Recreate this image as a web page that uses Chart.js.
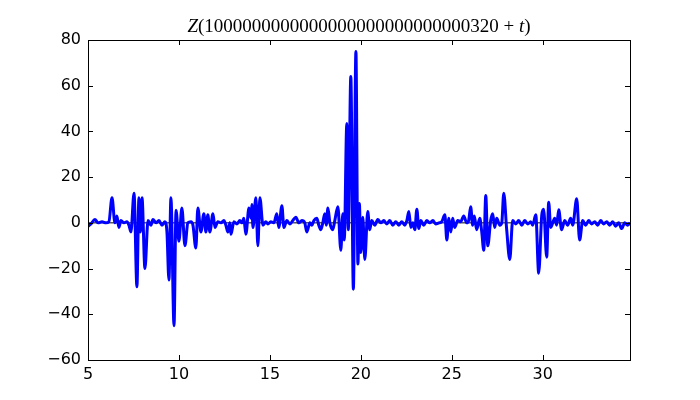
<!DOCTYPE html>
<html>
<head>
<meta charset="utf-8">
<script src="https://cdn.jsdelivr.net/npm/chart.js@4"></script>
<style>
  body { margin: 0; background: #fff; }
</style>
</head>
<body>
<canvas id="zplot" width="700" height="400"></canvas>
<script>
// values (t, Z(t))
const tValues = [
  5.00, 5.16, 5.38, 5.55, 5.77, 5.99, 6.15, 6.32, 6.48, 6.59, 6.70, 6.81, 6.98, 7.14, 7.25,
  7.36, 7.53, 7.69, 7.80, 7.88, 7.97, 8.13, 8.30, 8.46, 8.57, 8.74, 8.90, 9.07, 9.23, 9.34,
  9.45, 9.56, 9.73, 9.84, 10.00, 10.16, 10.33, 10.49, 10.66, 10.77, 10.93, 11.04, 11.21, 11.37, 11.48,
  11.59, 11.70, 11.87, 11.98, 12.14, 12.31, 12.47, 12.58, 12.69, 12.80, 12.86, 13.02, 13.19, 13.35, 13.46,
  13.57, 13.68, 13.85, 13.96, 14.01, 14.07, 14.23, 14.34, 14.45, 14.62, 14.78, 14.89, 15.05, 15.22, 15.38,
  15.49, 15.66, 15.77, 15.93, 16.10, 16.26, 16.43, 16.59, 16.76, 16.92, 17.03, 17.20, 17.31, 17.42, 17.58,
  17.69, 17.80, 17.91, 18.02, 18.10, 18.19, 18.30, 18.46, 18.57, 18.74, 18.90, 19.01, 19.09, 19.23, 19.31,
  19.45, 19.59, 19.73, 19.84, 19.92, 20.00, 20.11, 20.22, 20.38, 20.49, 20.60, 20.77, 20.93, 21.10, 21.26,
  21.43, 21.59, 21.76, 21.92, 22.09, 22.25, 22.42, 22.53, 22.64, 22.75, 22.86, 22.97, 23.08, 23.19, 23.30,
  23.46, 23.63, 23.79, 23.96, 24.12, 24.29, 24.45, 24.62, 24.73, 24.84, 24.95, 25.05, 25.16, 25.33, 25.49,
  25.66, 25.82, 25.93, 26.04, 26.15, 26.24, 26.37, 26.54, 26.65, 26.76, 26.87, 26.98, 27.14, 27.25, 27.36,
  27.47, 27.64, 27.75, 27.86, 28.02, 28.19, 28.35, 28.52, 28.68, 28.85, 29.01, 29.18, 29.34, 29.45, 29.62,
  29.78, 29.95, 30.05, 30.22, 30.33, 30.44, 30.66, 30.77, 30.88, 31.04, 31.21, 31.37, 31.54, 31.65, 31.87,
  32.03, 32.20, 32.36, 32.53, 32.69, 32.86, 33.02, 33.19, 33.35, 33.52, 33.68, 33.85, 34.01, 34.18, 34.34,
  34.51, 34.67, 34.80
];
const zValues = [
  -1.5, -0.5, 1.5, 0, 0.5, 0, 0.5, 11, 0, 3, -2, 1, 0, 0.5, -1,
  -4, 13, -28, 11, -4, 11, -20, 1, -1, 1.5, 0, 1, -1, 0.5, -4,
  -25, 11, -45, 5.5, -8, 6.5, -10, 0, 0.5, -1, -11, 6.5, -4, 4, -4,
  3.5, -4, 4, -2, 0.5, 0, 1, -1, -4, 0, -5, 0.5, -0.5, 1, 0,
  2, -5, 6.5, 2, 8, -2, 11, -10, 11, -1, 0.5, -0.5, 0.5, 0, 4,
  -2, 7.5, -2, 1, -0.5, 1, 2.5, 0, 1, 0, -4, 0, -1, 1, 2,
  -1, -3, 0, 4, -1, 6.5, 0, -3, 1, 7, -12, 4, -7.5, 43.5, -3,
  64, -29, 75, -18, 8.5, -13, 2.5, -16, 5, -3, 1, -1, 1.5, 0, 1,
  -0.5, 1, -1, 0.5, -1, 0.5, -1, 1, 5, -2, 0, -3, 6, -2.5, 1,
  -1, 1, 0, 1, -0.5, 0, 0.5, 3.5, -7.5, 2, -4, 2, -2, 1, 0.5,
  3, 0, 1, 7, -1, 3, -3, 2, -4, -12, 12, -10, 1, 4, -2,
  2, -1, 0, 13, -3, -16, 1, -0.5, 1, -1, 1, -0.5, 0.5, -1, 3.5,
  -22, 3.5, 6, -15, 9, -2, 2, -1, 5.7, -3, 1, -1, 2, -1, 10.5,
  -7.5, 1, -1, 1, -0.5, 0.5, -1, 1, -0.5, 0.5, -1, 0.5, -1.5, 0, -2.5,
  0, -1, 0
];
const xTicks = [5, 10, 15, 20, 25, 30];
const yTicks = [-60, -40, -20, 0, 20, 40, 60, 80];
const xRange = [5, 34.8];
const yRange = [-60, 80];
// title pieces: [text, italic]
const titleParts = [
  ['Z', true], ['(1000000000000000000000000000320', false], [' + ', false], ['t', true], [')', false]
];

const points = tValues.map((t, i) => ({ x: t, y: zValues[i] }));

// matplotlib style: full frame, ticks pointing inward on all four sides, mathtext title
const frameAndTicks = {
  id: 'frameAndTicks',
  afterDraw(chart) {
    const ctx = chart.ctx;
    const a = chart.chartArea;
    const xs = chart.scales.x;
    const ys = chart.scales.y;
    const len = 5;
    ctx.save();
    ctx.strokeStyle = '#000';
    ctx.lineWidth = 1;
    ctx.beginPath();
    xTicks.forEach(v => {
      const px = Math.round(xs.getPixelForValue(v)) + 0.5;
      ctx.moveTo(px, a.bottom); ctx.lineTo(px, a.bottom - len);
      ctx.moveTo(px, a.top); ctx.lineTo(px, a.top + len);
    });
    yTicks.forEach(v => {
      const py = Math.round(ys.getPixelForValue(v)) + 0.5;
      ctx.moveTo(a.left, py); ctx.lineTo(a.left + len, py);
      ctx.moveTo(a.right, py); ctx.lineTo(a.right - len, py);
    });
    ctx.stroke();
    ctx.strokeRect(Math.round(a.left) + 0.5, Math.round(a.top) + 0.5,
      Math.round(a.right - a.left), Math.round(a.bottom - a.top));

    // title
    const size = 19;
    const fontFor = it => (it ? 'italic ' : '') + size + 'px "Liberation Serif"';
    let total = 0;
    titleParts.forEach(p => { ctx.font = fontFor(p[1]); total += ctx.measureText(p[0]).width; });
    let x = (a.left + a.right) / 2 - total / 2;
    ctx.fillStyle = '#000';
    ctx.textBaseline = 'alphabetic';
    titleParts.forEach(p => {
      ctx.font = fontFor(p[1]);
      ctx.fillText(p[0], x, 32);
      x += ctx.measureText(p[0]).width;
    });
    ctx.restore();
  }
};

new Chart(document.getElementById('zplot'), {
  type: 'line',
  data: {
    datasets: [{
      data: points,
      borderColor: '#0000ff',
      borderWidth: 3,
      pointRadius: 0,
      cubicInterpolationMode: 'monotone',
      fill: false,
      order: 0
    }, {
      data: [{ x: xRange[0], y: 0 }, { x: xRange[1], y: 0 }],
      borderColor: '#000',
      borderWidth: 1,
      pointRadius: 0,
      fill: false,
      order: 1
    }]
  },
  options: {
    responsive: false,
    animation: false,
    devicePixelRatio: 1,
    layout: { padding: { left: 0, right: 70, top: 40, bottom: 0 } },
    plugins: { legend: { display: false }, tooltip: { enabled: false }, title: { display: false } },
    scales: {
      x: {
        type: 'linear',
        min: xRange[0],
        max: xRange[1],
        afterBuildTicks: s => { s.ticks = xTicks.map(v => ({ value: v })); },
        afterFit: s => { s.height = 40; },
        grid: { display: true, drawOnChartArea: false, drawTicks: false },
        border: { display: false },
        ticks: { color: '#000', padding: 5, maxRotation: 0, font: { family: 'DejaVu Sans', size: 16 } }
      },
      y: {
        type: 'linear',
        min: yRange[0],
        max: yRange[1],
        afterBuildTicks: s => { s.ticks = yTicks.map(v => ({ value: v })); },
        afterFit: s => { s.width = 88; },
        grid: { display: true, drawOnChartArea: false, drawTicks: false },
        border: { display: false },
        ticks: {
          color: '#000', padding: 7, font: { family: 'DejaVu Sans', size: 16 },
          callback: v => String(v).replace('-', '\u2212')
        }
      }
    }
  },
  plugins: [frameAndTicks]
});
</script>
</body>
</html>
